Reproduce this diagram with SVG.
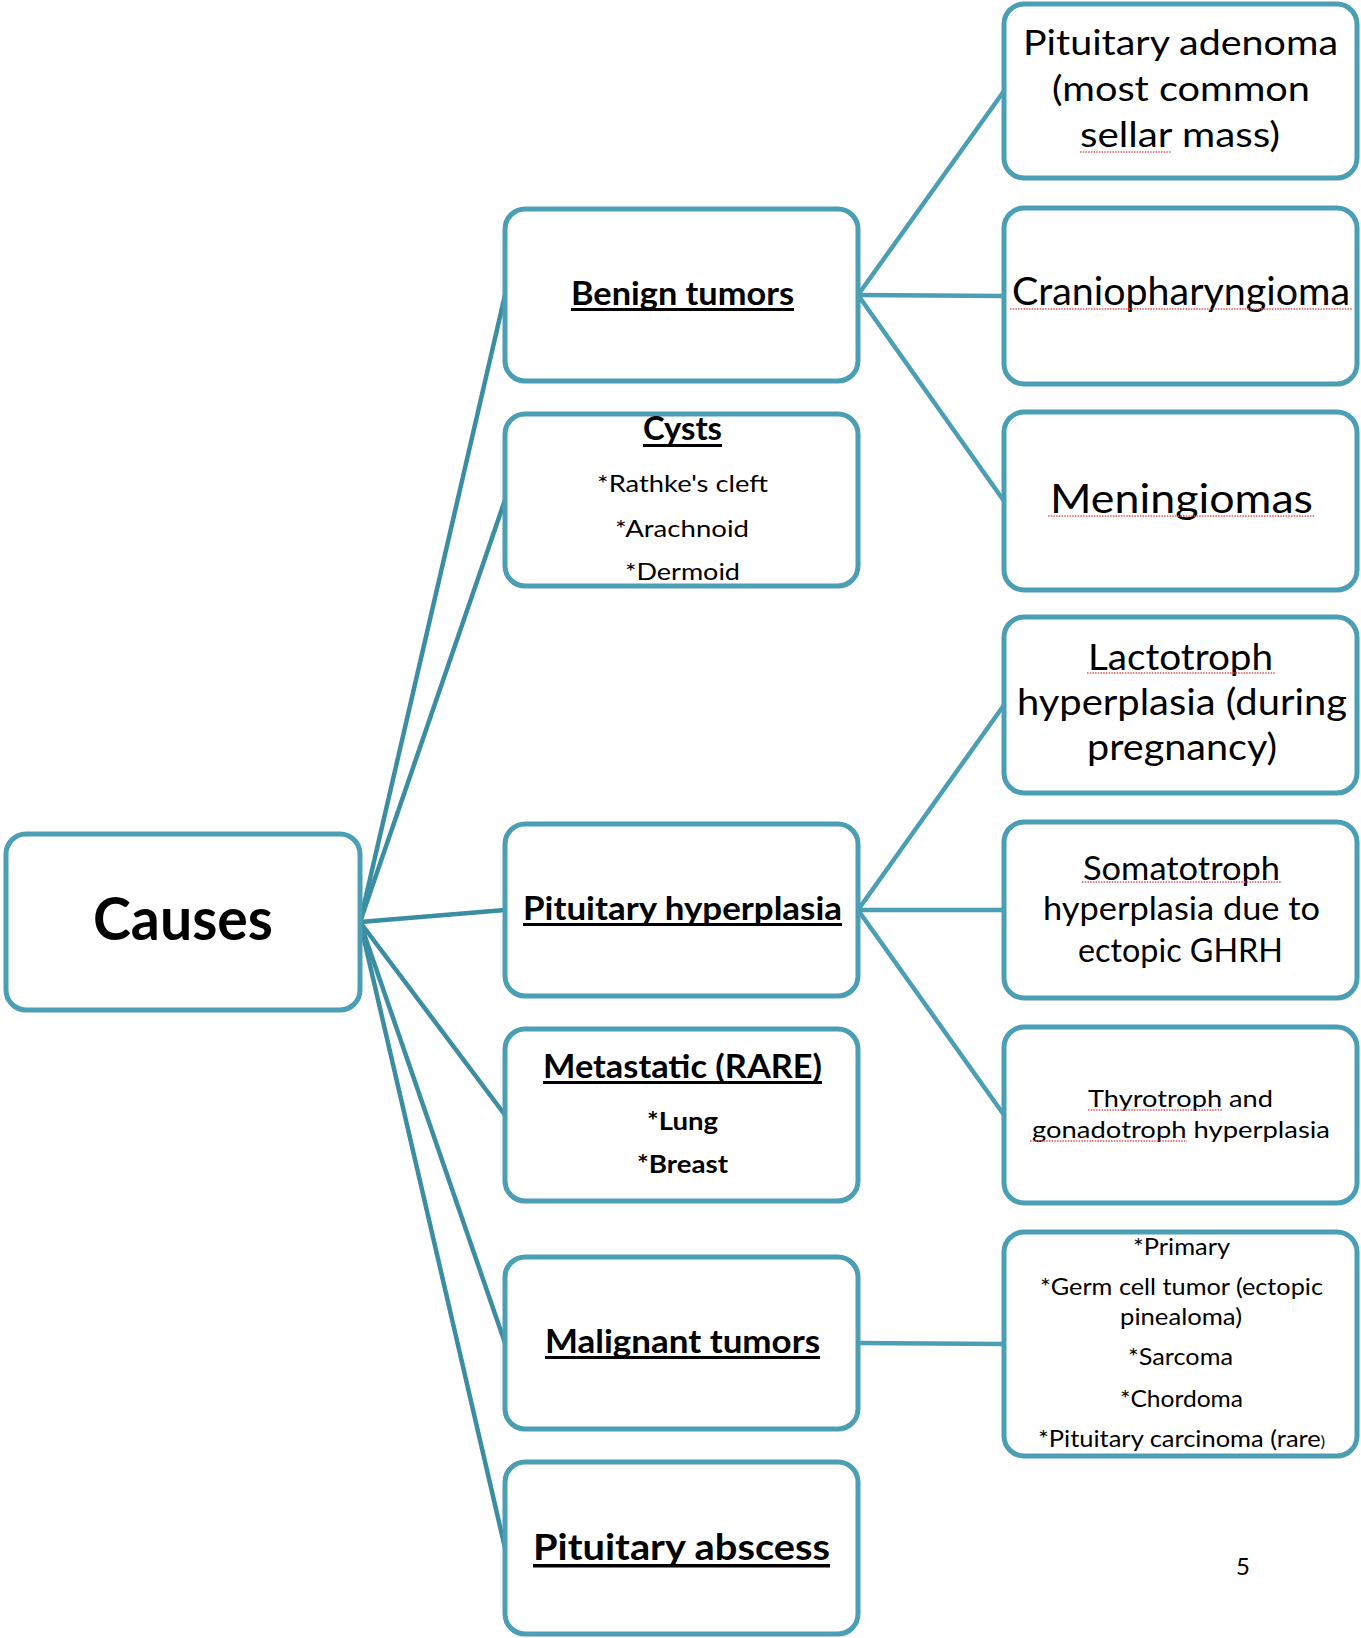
<svg xmlns="http://www.w3.org/2000/svg" width="1361" height="1638" viewBox="0 0 1361 1638">
<style>
.box{fill:#fff;stroke:#4A9FB5;stroke-width:5}
.c1{stroke:#3A8DA2;stroke-width:4.5;fill:none}
.c2{stroke:#4A9FB5;stroke-width:4.5;fill:none}
text{font-family:Lato,"Open Sans","Liberation Sans",sans-serif;fill:#000;text-anchor:middle}
.b{font-weight:bold}
.ul{fill:#000}
.sq{stroke:#E05A5A;stroke-width:1.4;stroke-dasharray:1.5 1.2;fill:none}
</style>
<rect width="1361" height="1638" fill="#fff"/>
<g id="connectors">
<line class="c1" x1="360" y1="922" x2="505" y2="295"/>
<line class="c1" x1="360" y1="922" x2="505" y2="500"/>
<line class="c1" x1="360" y1="922" x2="505" y2="910"/>
<line class="c1" x1="360" y1="922" x2="505" y2="1115"/>
<line class="c1" x1="360" y1="922" x2="505" y2="1343"/>
<line class="c1" x1="360" y1="922" x2="505" y2="1548"/>
<line class="c2" x1="858" y1="295" x2="1004" y2="91"/>
<line class="c2" x1="858" y1="295" x2="1004" y2="296"/>
<line class="c2" x1="858" y1="295" x2="1004" y2="501"/>
<line class="c2" x1="858" y1="910" x2="1004" y2="705"/>
<line class="c2" x1="858" y1="910" x2="1004" y2="910"/>
<line class="c2" x1="858" y1="910" x2="1004" y2="1115"/>
<line class="c2" x1="858" y1="1343" x2="1004" y2="1344"/>
</g>
<g id="causes">
<rect class="box" x="6" y="834" width="354" height="176" rx="20"/>
<text class="b" x="183" y="940" font-size="60" textLength="180" lengthAdjust="spacingAndGlyphs">Causes</text>
</g>
<g id="benign">
<rect class="box" x="505" y="209" width="353" height="172" rx="20"/>
<text class="b" x="682.5" y="305" font-size="32" textLength="223" lengthAdjust="spacingAndGlyphs">Benign tumors</text>
<rect class="ul" x="571" y="308" width="223" height="3"/>
</g>
<g id="cysts">
<rect class="box" x="505" y="414" width="353" height="172" rx="20"/>
<text class="b" x="682.5" y="440" font-size="32" textLength="79" lengthAdjust="spacingAndGlyphs">Cysts</text>
<rect class="ul" x="643" y="444" width="79" height="3"/>
<text x="682.5" y="492" font-size="24" textLength="171" lengthAdjust="spacingAndGlyphs">*Rathke's cleft</text>
<text x="682" y="537" font-size="24" textLength="134" lengthAdjust="spacingAndGlyphs">*Arachnoid</text>
<text x="682.5" y="580" font-size="24" textLength="115" lengthAdjust="spacingAndGlyphs">*Dermoid</text>
</g>
<g id="hyperplasia">
<rect class="box" x="505" y="824" width="353" height="172" rx="20"/>
<text class="b" x="682.5" y="920" font-size="32" textLength="319" lengthAdjust="spacingAndGlyphs">Pituitary hyperplasia</text>
<rect class="ul" x="523" y="923" width="319" height="3"/>
</g>
<g id="metastatic">
<rect class="box" x="505" y="1029" width="353" height="172" rx="20"/>
<text class="b" x="682.5" y="1078" font-size="32" textLength="279" lengthAdjust="spacingAndGlyphs">Metastatic (RARE)</text>
<rect class="ul" x="543" y="1081" width="279" height="3"/>
<text class="b" x="682.5" y="1130" font-size="24" textLength="71" lengthAdjust="spacingAndGlyphs">*Lung</text>
<text class="b" x="682.5" y="1173" font-size="24" textLength="91" lengthAdjust="spacingAndGlyphs">*Breast</text>
</g>
<g id="malignant">
<rect class="box" x="505" y="1257" width="353" height="172" rx="20"/>
<text class="b" x="682.5" y="1353" font-size="32" textLength="275" lengthAdjust="spacingAndGlyphs">Malignant tumors</text>
<rect class="ul" x="545" y="1356" width="275" height="3"/>
</g>
<g id="abscess">
<rect class="box" x="505" y="1462" width="353" height="172" rx="20"/>
<text class="b" x="681.5" y="1560" font-size="36" textLength="297" lengthAdjust="spacingAndGlyphs">Pituitary abscess</text>
<rect class="ul" x="533" y="1564" width="297" height="3.5"/>
</g>
<g id="adenoma">
<rect class="box" x="1004" y="4" width="353" height="174" rx="20"/>
<text x="1180.5" y="55" font-size="35" textLength="315" lengthAdjust="spacingAndGlyphs">Pituitary adenoma</text>
<text x="1181" y="101" font-size="35" textLength="258" lengthAdjust="spacingAndGlyphs">(most common</text>
<text x="1180" y="147" font-size="35" textLength="200" lengthAdjust="spacingAndGlyphs">sellar mass)</text>
<line class="sq" x1="1080" y1="152" x2="1172" y2="152"/>
</g>
<g id="cranio">
<rect class="box" x="1004" y="208" width="353" height="176" rx="20"/>
<text x="1181" y="305" font-size="38" textLength="338" lengthAdjust="spacingAndGlyphs">Craniopharyngioma</text>
<line class="sq" x1="1010" y1="309" x2="1353" y2="309"/>
</g>
<g id="meningiomas">
<rect class="box" x="1004" y="412" width="353" height="178" rx="20"/>
<text x="1181.5" y="513" font-size="40" textLength="263" lengthAdjust="spacingAndGlyphs">Meningiomas</text>
<line class="sq" x1="1048" y1="516" x2="1315" y2="516"/>
</g>
<g id="lactotroph">
<rect class="box" x="1004" y="617" width="353" height="176" rx="20"/>
<text x="1180.5" y="670" font-size="36" textLength="185" lengthAdjust="spacingAndGlyphs">Lactotroph</text>
<line class="sq" x1="1087" y1="673" x2="1276" y2="673"/>
<text x="1182" y="715" font-size="36" textLength="330" lengthAdjust="spacingAndGlyphs">hyperplasia (during</text>
<text x="1182" y="760" font-size="36" textLength="190" lengthAdjust="spacingAndGlyphs">pregnancy)</text>
</g>
<g id="somatotroph">
<rect class="box" x="1004" y="822" width="353" height="176" rx="20"/>
<text x="1181.5" y="880" font-size="32" textLength="197" lengthAdjust="spacingAndGlyphs">Somatotroph</text>
<line class="sq" x1="1082" y1="882" x2="1282" y2="882"/>
<text x="1181.5" y="920" font-size="32" textLength="277" lengthAdjust="spacingAndGlyphs">hyperplasia due to</text>
<text x="1180.5" y="962" font-size="32" textLength="205" lengthAdjust="spacingAndGlyphs">ectopic GHRH</text>
</g>
<g id="thyrotroph">
<rect class="box" x="1004" y="1027" width="353" height="176" rx="20"/>
<text x="1180.5" y="1107" font-size="24" textLength="185" lengthAdjust="spacingAndGlyphs">Thyrotroph and</text>
<line class="sq" x1="1088" y1="1110" x2="1223" y2="1110"/>
<text x="1181" y="1138" font-size="24" textLength="298" lengthAdjust="spacingAndGlyphs">gonadotroph hyperplasia</text>
<line class="sq" x1="1030" y1="1141" x2="1187" y2="1141"/>
</g>
<g id="malignant-list">
<rect class="box" x="1004" y="1232" width="353" height="224" rx="20"/>
<text x="1181.5" y="1255" font-size="24" textLength="97" lengthAdjust="spacingAndGlyphs">*Primary</text>
<text x="1181.5" y="1295" font-size="24" textLength="283" lengthAdjust="spacingAndGlyphs">*Germ cell tumor (ectopic</text>
<text x="1181" y="1325" font-size="24" textLength="122" lengthAdjust="spacingAndGlyphs">pinealoma)</text>
<text x="1180.5" y="1365" font-size="24" textLength="105" lengthAdjust="spacingAndGlyphs">*Sarcoma</text>
<text x="1181.5" y="1407" font-size="24" textLength="123" lengthAdjust="spacingAndGlyphs">*Chordoma</text>
<text x="1181.5" y="1447" font-size="24" textLength="287" lengthAdjust="spacingAndGlyphs">*Pituitary carcinoma (rare<tspan font-size="15">)</tspan></text>
</g>
<g id="page-number">
<text x="1243" y="1575" font-size="24">5</text>
</g>
</svg>
